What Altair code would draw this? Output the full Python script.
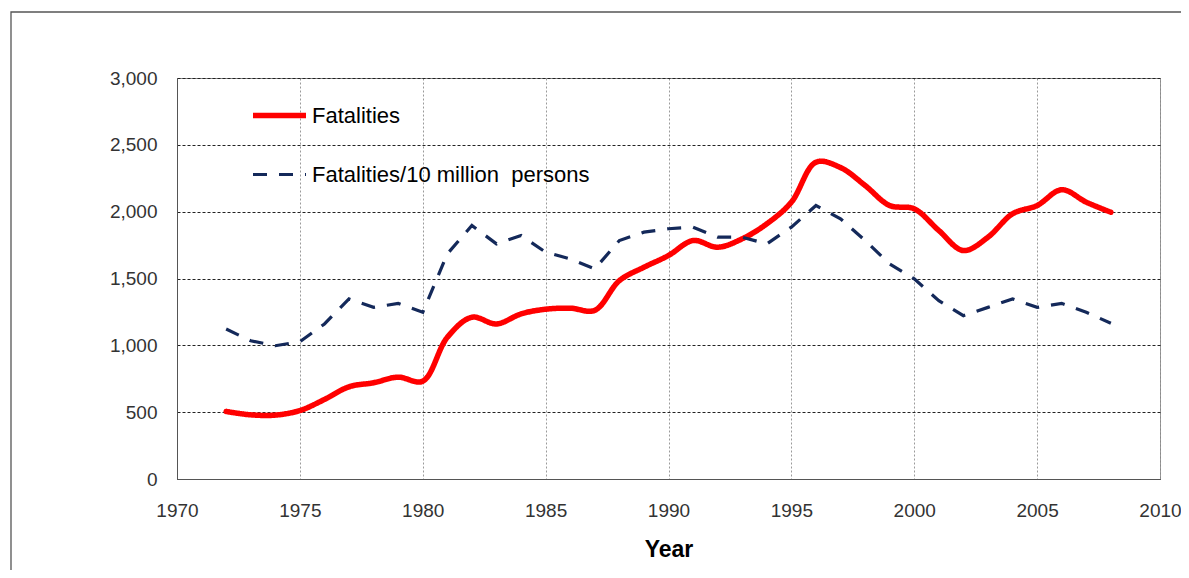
import altair as alt
import pandas as pd

years = list(range(1972, 2009))
fatalities = [505, 480, 478, 512, 595, 690, 720, 762, 732, 1060, 1210, 1160, 1235,
              1270, 1278, 1262, 1484, 1584, 1672, 1784, 1734, 1797, 1909, 2071,
              2370, 2330, 2196, 2046, 2021, 1859, 1709, 1809, 1984, 2046, 2164,
              2071, 1996]
rate = [1122, 1034, 997, 1027, 1160, 1347, 1284, 1314, 1247, 1684, 1897, 1759,
        1822, 1697, 1647, 1572, 1784, 1847, 1872, 1884, 1809, 1809, 1759, 1884,
        2046, 1947, 1784, 1609, 1497, 1334, 1222, 1284, 1347, 1284, 1314, 1247,
        1165]
series_names = ["Fatalities", "Fatalities/10 million\u00a0 persons"]
x_ticks = [1970, 1975, 1980, 1985, 1990, 1995, 2000, 2005, 2010]
y_ticks = [0, 500, 1000, 1500, 2000, 2500, 3000]

rows = []
for y, v in zip(years, fatalities):
    rows.append({"Year": y, "Value": v, "Series": series_names[0]})
for y, v in zip(years, rate):
    rows.append({"Year": y, "Value": v, "Series": series_names[1]})
df = pd.DataFrame(rows)

FONT = "Liberation Sans"


def make_legend():
    return alt.Legend(title=None, orient="none", legendX=73, legendY=8,
                      symbolType="stroke", symbolSize=2809, labelFontSize=22,
                      labelFont=FONT, labelColor="#000", labelLimit=600,
                      labelOffset=3, rowPadding=19)


x_enc = alt.X("Year:Q", scale=alt.Scale(domain=[1970, 2010], nice=False),
              axis=alt.Axis(values=x_ticks, format="d", title="Year",
                            titleY=77, titleBaseline="alphabetic",
                            titleFontSize=23, titleFontWeight="bold",
                            titleColor="#000", labelPadding=22, ticks=False,
                            gridColor="#9a9a9a", gridDash=[2, 2], gridWidth=1,
                            domainColor="#555", labelFlush=False))
y_enc = alt.Y("Value:Q", scale=alt.Scale(domain=[0, 3000], nice=False),
              axis=alt.Axis(values=y_ticks, format=",d", title=None, ticks=False,
                            labelPadding=20, gridColor="#222", gridDash=[3, 2],
                            gridWidth=1, domainColor="#555"))
color_enc = alt.Color("Series:N", scale=alt.Scale(domain=series_names,
                                                  range=["#ff0000", "#14295a"]),
                      legend=make_legend())
dash_enc = alt.StrokeDash("Series:N", scale=alt.Scale(domain=series_names,
                                                      range=[[1, 0], [14, 12]]),
                          legend=make_legend())
width_enc = alt.StrokeWidth("Series:N", scale=alt.Scale(domain=series_names,
                                                        range=[5.5, 3.2]),
                            legend=make_legend())

base = alt.Chart(df).encode(x=x_enc, y=y_enc, color=color_enc,
                            strokeDash=dash_enc, strokeWidth=width_enc)

red = base.transform_filter(alt.datum.Series == series_names[0]).mark_line(
    interpolate="catmull-rom", strokeCap="round", strokeJoin="round")
blue = base.transform_filter(alt.datum.Series == series_names[1]).mark_line(
    interpolate="linear", strokeCap="butt")

frame = alt.Chart(alt.Data(values=[{"k": 1}])).mark_rect(
    fillOpacity=0, stroke="#555", strokeWidth=1.3).encode(
    x=alt.value(-166), x2=alt.value(1100), y=alt.value(-66), y2=alt.value(700))

chart = alt.layer(frame, red, blue).properties(
    width=983, height=401,
    autosize=alt.AutoSizeParams(type="none"),
    padding={"left": 169, "top": 70, "right": 21, "bottom": 91},
    background="white",
).configure_view(stroke="#8a8a8a", strokeWidth=1).configure_axis(
    labelFont=FONT, labelFontSize=19, labelColor="#333", titleFont=FONT
)

chart.save("out.html", embed_options={"renderer": "svg", "actions": False})
